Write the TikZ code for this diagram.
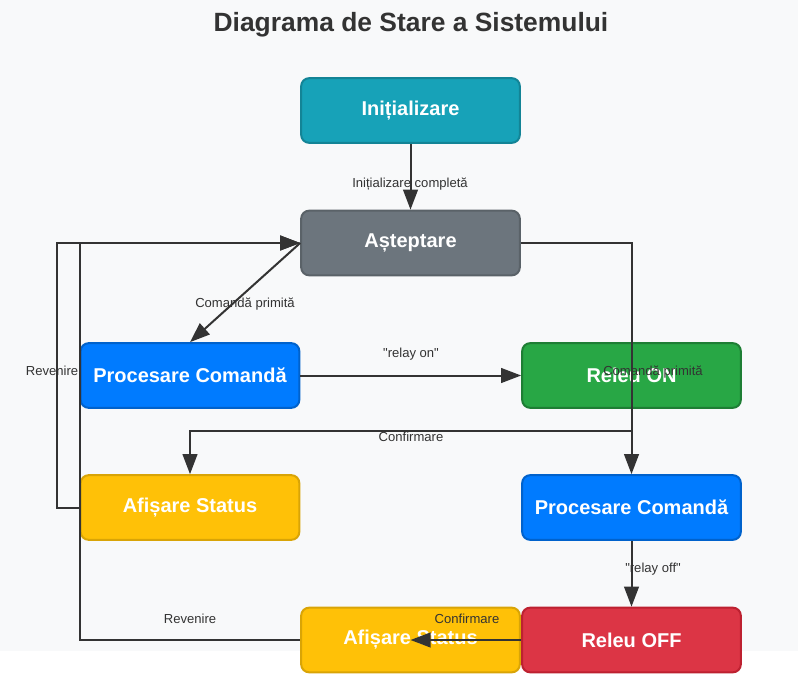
\documentclass[tikz,border=0pt]{standalone}
\usepackage{fontspec}
\setmainfont{Liberation Sans}
\usetikzlibrary{arrows.meta,calc}
\definecolor{bgc}{HTML}{F8F9FA}
\definecolor{ink}{HTML}{333333}
\definecolor{teal}{HTML}{17A2B8}\definecolor{tealb}{HTML}{138496}
\definecolor{grayc}{HTML}{6C757D}\definecolor{grayb}{HTML}{5A6268}
\definecolor{bluec}{HTML}{007BFF}\definecolor{blueb}{HTML}{0062CC}
\definecolor{greenc}{HTML}{28A745}\definecolor{greenb}{HTML}{1E7E34}
\definecolor{yelc}{HTML}{FFC107}\definecolor{yelb}{HTML}{D9A406}
\definecolor{redc}{HTML}{DC3545}\definecolor{redb}{HTML}{BD2130}
\tikzset{
  statebox/.style={draw, line width=1.5pt, rounded corners=6pt, minimum width=164pt, minimum height=48.5pt, inner sep=0pt, text=white, font=\fontsize{15}{18}\selectfont\bfseries},
  conn/.style={draw=ink, line width=1.5pt, -{Triangle[length=15pt,width=11pt]}},
  lbl/.style={text=ink, font=\fontsize{9.8}{11}\selectfont, inner sep=0pt}
}
\begin{document}
\begin{tikzpicture}[x=0.75pt,y=-0.75pt]
\useasboundingbox (0,0) rectangle (798,688);
\fill[white] (0,0) rectangle (798,688);
\fill[bgc] (0,0) rectangle (798,651);
\node[text=ink, font=\fontsize{19.8}{24}\selectfont\bfseries] (title) at (411,25) {Diagrama de Stare a Sistemului};
\node[statebox, fill=teal, draw=tealb] (init) at (410.5,110.5) {Inițializare};
\node[statebox, fill=grayc, draw=grayb] (wait) at (410.5,243) {Așteptare};
\node[statebox, fill=bluec, draw=blueb] (procL) at (190,375.5) {Procesare Comandă};
\node[statebox, fill=greenc, draw=greenb] (relon) at (631.5,375.5) {Releu ON};
\node[statebox, fill=yelc, draw=yelb] (afsL) at (190,507.5) {Afișare Status};
\node[statebox, fill=bluec, draw=blueb] (procR) at (631.5,507.5) {Procesare Comandă};
\node[statebox, fill=redc, draw=redb] (reloff) at (631.5,640) {Releu OFF};
\node[statebox, fill=yelc, draw=yelb] (afsB) at (410.5,640) {Afișare Status};
\draw[conn] (init.south) -- (wait.north);
\draw[conn] (wait.west) -- (procL.north);
\draw[conn] (procL.east) -- (relon.west);
\draw[conn] (wait.east) -| (procR.north);
\draw[conn] (relon.south) -- ++(0,22) -| (afsL.north);
\draw[conn] (afsL.west) -- ++(-23,0) |- (wait.west);
\draw[conn] (procR.south) -- (reloff.north);
\draw[conn] (reloff.west) -- (afsB.center);
\draw[conn] (afsB.west) -- (afsB.west -| afsL.west) |- (wait.west);
\node[lbl] (l1) at (410,184) {Inițializare completă};
\node[lbl] (l2) at (245,304) {Comandă primită};
\node[lbl] (l3) at (411,354) {\textquotedbl relay on\textquotedbl};
\node[lbl] (l4) at (653,372) {Comandă primită};
\node[lbl] (l5) at (411,437) {Confirmare};
\node[lbl] (l6) at (52,371) {Revenire};
\node[lbl] (l7) at (653,569) {\textquotedbl relay off\textquotedbl};
\node[lbl] (l8) at (467,619) {Confirmare};
\node[lbl] (l9) at (190,619) {Revenire};
\end{tikzpicture}
\end{document}
